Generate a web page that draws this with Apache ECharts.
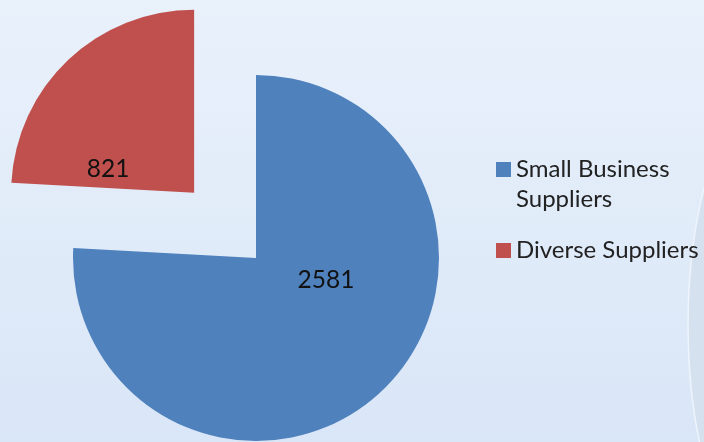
<!DOCTYPE html>
<html>
<head>
<meta charset="utf-8">
<script src="https://cdn.jsdelivr.net/npm/echarts@6/dist/echarts.min.js"></script>
<style>
html,body{margin:0;padding:0;width:704px;height:442px;overflow:hidden;}
#c{width:704px;height:442px;}
</style>
</head>
<body>
<div id="c"></div>
<script>
var categories = ['Small Business Suppliers', 'Diverse Suppliers'];
var legendLabels = [' \nSmall Business\nSuppliers', 'Diverse Suppliers'];
var values = [2581, 821];
var colors = ['#4f81bd', '#c0504d'];

var chart = echarts.init(document.getElementById('c'));
var FONT = 'Lato';
var data = categories.map(function (n, i) {
  return { name: n, value: values[i], itemStyle: { color: colors[i] }, selected: i === 1 };
});
chart.setOption({
  backgroundColor: {
    type: 'linear', x: 0, y: 0, x2: 0, y2: 1,
    colorStops: [{ offset: 0, color: '#e9f1fb' }, { offset: 1, color: '#d9e6f7' }]
  },
  animation: false,
  graphic: [{
    type: 'ellipse', silent: true, z: -1,
    shape: { cx: 770, cy: 325, rx: 82, ry: 230 },
    style: { fill: '#d6e1f0', stroke: '#eef4fc', lineWidth: 1.5 }
  }],
  legend: [{
    left: 496, top: 124.5, padding: 0, orient: 'vertical',
    itemWidth: 15, itemHeight: 15, icon: 'rect',
    data: [categories[0]],
    formatter: function () { return legendLabels[0]; },
    textStyle: { fontFamily: FONT, fontSize: 24, lineHeight: 30, color: '#222' }
  }, {
    left: 496, top: 235.5, padding: 0, orient: 'vertical',
    itemWidth: 15, itemHeight: 15, icon: 'rect',
    data: [categories[1]],
    formatter: function () { return legendLabels[1]; },
    textStyle: { fontFamily: FONT, fontSize: 24, lineHeight: 30, color: '#222' }
  }],
  series: [{
    type: 'pie',
    center: [256, 258],
    radius: 183,
    startAngle: 90,
    clockwise: true,
    selectedMode: 'single',
    selectedOffset: 90,
    emphasis: { disabled: true },
    label: {
      show: true, position: 'inside', formatter: '{c}',
      fontFamily: FONT, fontSize: 24.5, color: '#111'
    },
    labelLine: { show: false },
    labelLayout: function (p) {
      return p.dataIndex === 0 ? { dx: 5, dy: -47 } : { dx: -21, dy: 45 };
    },
    data: data
  }]
});
</script>
</body>
</html>
